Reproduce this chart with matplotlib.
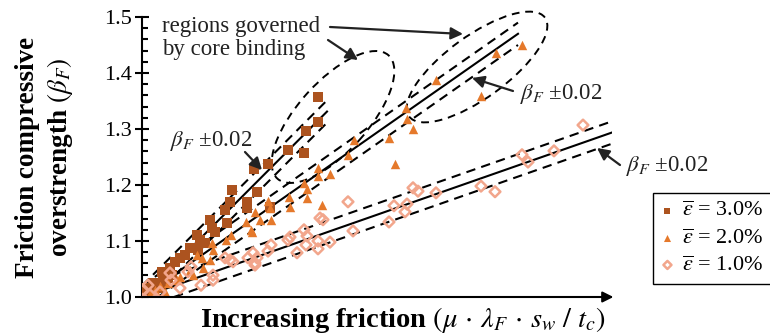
import matplotlib
matplotlib.use("Agg")
import matplotlib.pyplot as plt
import numpy as np
from matplotlib.patches import Ellipse
from matplotlib.transforms import IdentityTransform

plt.rcParams["font.family"] = ["Liberation Serif", "DejaVu Serif"]
plt.rcParams["mathtext.fontset"] = "stix"

# --- data (x = friction parameter, arbitrary units) ---
# eps = 3.0 %
sq_x = [.176, .176, .164, .146, .162, .126, .112, .090, .115, .088, .105, .083, .105, .128,
        .085, .070, .055, .058, .063, .048, .056, .033, .038, .028, .020, .030, .021, .011,
        .015, .026, .005, .008, .001, .003, .018, .043, .068, .073]
sq_y = [1.357, 1.313, 1.296, 1.263, 1.257, 1.238, 1.229, 1.191, 1.188, 1.170, 1.170, 1.155,
        1.159, 1.161, 1.132, 1.123, 1.111, 1.102, 1.096, 1.088, 1.084, 1.063, 1.070, 1.052,
        1.045, 1.039, 1.030, 1.025, 1.021, 1.034, 1.016, 1.013, 1.009, 1.005, 1.016, 1.075,
        1.138, 1.116]

# eps = 2.0 %
tri_x = [.380, .354, .294, .339, .264, .265, .271, .247, .212, .206, .253, .176, .188, .176,
         .162, .165, .147, .165, .180, .126, .148, .128, .113, .118, .129, .110, .104, .109,
         .089, .084, .070, .071, .055, .068, .060, .061, .048, .051, .038, .035, .026, .018,
         .013, .023, .008]
tri_y = [1.450, 1.436, 1.388, 1.359, 1.338, 1.318, 1.300, 1.284, 1.280, 1.254, 1.238, 1.230,
         1.220, 1.216, 1.204, 1.193, 1.179, 1.177, 1.164, 1.171, 1.161, 1.159, 1.152, 1.138,
         1.138, 1.116, 1.134, 1.120, 1.111, 1.102, 1.096, 1.084, 1.075, 1.066, 1.070, 1.052,
         1.048, 1.039, 1.036, 1.030, 1.025, 1.020, 1.013, 1.009, 1.005]

# eps = 1.0 %
dia_x = [.441, .412, .380, .386, .339, .353, .271, .276, .294, .252, .265, .263, .247, .206,
         .211, .178, .181, .162, .165, .176, .188, .176, .164, .148, .146, .155, .129, .126,
         .115, .113, .111, .106, .088, .083, .091, .113, .071, .071, .059, .046, .049, .038,
         .029, .028, .006, .001, .018, .008]
dia_y = [1.307, 1.261, 1.254, 1.241, 1.198, 1.188, 1.195, 1.189, 1.186, 1.163, 1.166, 1.152,
         1.134, 1.170, 1.118, 1.141, 1.138, 1.120, 1.109, 1.100, 1.098, 1.086, 1.093, 1.107,
         1.102, 1.079, 1.093, 1.082, 1.070, 1.057, 1.079, 1.070, 1.066, 1.070, 1.063, 1.061,
         1.039, 1.030, 1.021, 1.045, 1.054, 1.016, 1.030, 1.043, 1.021, 1.013, 1.009, 1.004]

# linear fits beta_F = 1 + k * x and +/- band
fit_slopes = [1.79, 1.25, 0.625]
fit_ends = [0.185, 0.376, 0.47]
band = 0.02

labels = [r"$\overline{\varepsilon}$ = 3.0%", r"$\overline{\varepsilon}$ = 2.0%",
          r"$\overline{\varepsilon}$ = 1.0%"]

# --- figure ---
fig = plt.figure(figsize=(7.7, 3.36), dpi=100)
ax = fig.add_axes([142 / 770, 1 - 297 / 336, 470 / 770, 280 / 336])

dash = (0, (4.5, 3))
for k, xe in zip(fit_slopes, fit_ends):
    xs = np.array([0, xe])
    ax.plot(xs, 1 + k * xs, color="k", lw=1.5, zorder=2)
    ax.plot(xs, 1 + k * xs + band, color="k", lw=1.5, ls=dash, zorder=2)
    xl = np.array([band / k, xe])
    ax.plot(xl, 1 + k * xl - band, color="k", lw=1.5, ls=dash, zorder=2)

ax.scatter(sq_x, sq_y, marker="s", s=42, color="#AC531F", lw=0, zorder=3, label=labels[0])
ax.scatter(tri_x, tri_y, marker="^", s=46, color="#E5792B", lw=0, zorder=3, label=labels[1])
ax.scatter(dia_x, dia_y, marker="D", s=30, facecolor="none", edgecolor="#F2A68C",
           lw=1.8, zorder=3, label=labels[2])

ax.set_xlim(0, 0.47)
ax.set_ylim(1.0, 1.5)
ax.set_yticks(np.arange(1.0, 1.51, 0.1))
ax.set_yticks(np.arange(1.0, 1.5, 0.02), minor=True)
ax.yaxis.set_major_formatter(plt.FormatStrFormatter("%.1f"))
ax.tick_params(axis="y", which="major", direction="inout", length=10, width=1.5,
               labelsize=16, pad=2)
ax.tick_params(axis="y", which="minor", direction="in", length=4.5, width=1.5)
ax.set_xticks([])
for s in ["top", "right", "bottom"]:
    ax.spines[s].set_visible(False)
ax.spines["left"].set_linewidth(1.5)

# x axis drawn as an arrow
ax.annotate("", xy=(1.003, 0), xytext=(0, 0), xycoords="axes fraction",
            arrowprops=dict(arrowstyle="-|>", color="k", lw=1.5, mutation_scale=16,
                            shrinkA=0, shrinkB=0), annotation_clip=False)

ax.set_ylabel("Friction compressive\noverstrength $(\\beta_F)$", fontsize=19.5,
              fontweight="bold", linespacing=1.25)
ax.yaxis.set_label_coords(-0.142, 0.5)
fig.text(200 / 770, 9 / 336, r"Increasing friction $(\mu\,\cdot\,\lambda_F\,\cdot\,s_w\ /\ t_c)$",
         fontsize=20.5, fontweight="bold", va="baseline")

# regions governed by core binding (dashed ellipses, in pixels)
for cx, cy, w, h, ang in [(333, 117, 166, 70, 48), (477, 67, 168, 62, 36)]:
    ax.add_patch(Ellipse((cx, 336 - cy), w, h, angle=ang, transform=IdentityTransform(),
                         fill=False, ec="k", lw=1.4, ls=(0, (4, 3)), clip_on=False))

fig.text(162 / 770, 1 - 32 / 336, "regions governed", fontsize=16.5, va="baseline", color="#222")
fig.text(162 / 770, 1 - 55 / 336, "by core binding", fontsize=16.5, va="baseline", color="#222")
fig.text(170 / 770, 1 - 146 / 336, r"$\beta_F$ ±0.02", fontsize=16.5, va="baseline", color="#222")
fig.text(520 / 770, 1 - 99 / 336, r"$\beta_F$ ±0.02", fontsize=16.5, va="baseline", color="#222")
fig.text(626 / 770, 1 - 171 / 336, r"$\beta_F$ ±0.02", fontsize=16.5, va="baseline", color="#222")

arrows = [((330, 27), (463, 34)), ((328, 40), (358, 60)), ((245, 152), (262, 170)),
          ((513, 91), (472, 78)), ((620, 165), (597, 148))]
for (tx, ty), (hx, hy) in arrows:
    ax.annotate("", xy=(hx, 336 - hy), xytext=(tx, 336 - ty), xycoords="figure pixels",
                textcoords="figure pixels",
                arrowprops=dict(arrowstyle="-|>", color="#222", lw=1.6, mutation_scale=18,
                                shrinkA=0, shrinkB=0))

leg = ax.legend(loc="upper left", bbox_to_anchor=(653 / 770, 1 - 193 / 336),
                bbox_transform=fig.transFigure, borderaxespad=0, fontsize=16,
                frameon=True, fancybox=False, framealpha=1, edgecolor="k",
                handletextpad=0.35, handlelength=0.6, labelspacing=0.3, markerscale=0.75,
                borderpad=0.35)
leg.get_frame().set_linewidth(1.0)

fig.savefig("out.png", dpi=100)
